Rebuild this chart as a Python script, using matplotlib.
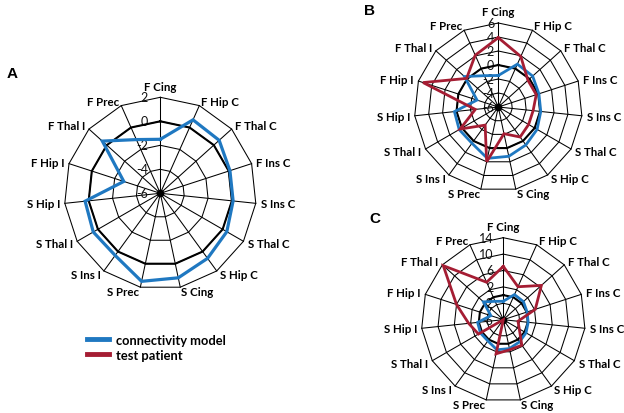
import numpy as np
import matplotlib
matplotlib.use("Agg")
import matplotlib.pyplot as plt
from matplotlib.lines import Line2D

plt.rcParams['font.family'] = ['Lato', 'DejaVu Sans']

# ---------------- data ----------------
categories = ["F Cing", "F Hip C", "F Thal C", "F Ins C", "S Ins C", "S Thal C",
              "S Hip C", "S Cing", "S Prec", "S Ins I", "S Thal I", "S Hip I",
              "F Hip I", "F Thal I", "F Prec"]
connectivity_model = [-1.5, 0.7, 0.6, 0.1, 0.1, 0.4, 0.7, 1.2, 1.5, 0.4, 0.45, 0.3, -2.8, 0.5, -1.1]
baseline = [0, 0, 0, 0, 0, 0, 0, 0, 0, 0, 0, 0, 0, 0, 0]
patient_b = [3.9, 1.9, -0.3, -0.3, -1.0, -1.0, -0.7, -2.1, 2.0, -2.8, 0.3, -2.7, 5.3, 0.1, 2.1]
patient_c = [7.0, 2.8, 6.5, 2.2, -2.4, -1.5, 1.7, 1.5, 2.5, -6.0, 1.0, 2.5, 6.0, 13.7, 4.0]
ticks_a = [-6, -4, -2, 0, 2]
ticks_b = [-6, -4, -2, 0, 2, 4, 6]
ticks_c = [-6, -2, 2, 6, 10, 14]

BLUE = '#1f78c1'
RED = '#a51d33'
BLACK = '#000000'

W, H = 624, 414
fig = plt.figure(figsize=(W / 100, H / 100), dpi=100)
fig.patch.set_facecolor('white')

n = len(categories)
theta = np.arange(n) * 2 * np.pi / n
theta_c = np.append(theta, theta[0])


def closed(vals):
    return np.append(np.asarray(vals, float), vals[0])


def radar(cx, cy, R, ticks, series, tick_dx):
    ax = fig.add_axes([(cx - R) / W, (H - cy - R) / H, 2 * R / W, 2 * R / H],
                      projection='polar')
    ax.set_theta_zero_location('N')
    ax.set_theta_direction(-1)
    rmin, rmax = ticks[0], ticks[-1]
    ax.set_ylim(rmin, rmax)
    ax.grid(False)
    ax.set_xticks([])
    ax.set_yticks([])
    ax.spines['polar'].set_visible(False)
    ax.patch.set_visible(False)
    # polygon grid rings
    for v in ticks[1:]:
        ax.plot(theta_c, [v] * (n + 1), color=BLACK, lw=0.75, clip_on=False, zorder=1)
    # spokes
    for t in theta:
        ax.plot([t, t], [rmin, rmax], color=BLACK, lw=0.75, clip_on=False, zorder=1)
    ax.plot([0], [rmin], marker='o', ms=4.5, color=BLACK, zorder=1, clip_on=False)
    # tick labels along the vertical axis
    for v in ticks:
        ax.annotate(str(v), xy=(0, v), xytext=(tick_dx, 0), textcoords='offset points',
                    ha='right', va='center', fontsize=9, color='#111111', zorder=2)
    # category labels
    for t, lab in zip(theta, categories):
        s, c = np.sin(t), np.cos(t)
        if abs(t) < 1e-6:
            ax.annotate(lab, xy=(t, rmax), xytext=(0, 4), textcoords='offset points',
                        ha='center', va='bottom', fontsize=8.3, fontweight='bold')
            continue
        ha = 'left' if s > 0.05 else ('right' if s < -0.05 else 'center')
        pad = 3.5
        ax.annotate(lab, xy=(t, rmax), xytext=(pad * s, pad * c),
                    textcoords='offset points', ha=ha, va='center',
                    fontsize=8.3, fontweight='bold')
    for vals, col, lw in series:
        ax.plot(theta_c, closed(vals), color=col, lw=lw, clip_on=False,
                solid_joinstyle='miter', zorder=3)
    return ax


radar(160.3, 194.3, 96, ticks_a,
      [(baseline, BLACK, 1.5), (connectivity_model, BLUE, 2.3)], -9)
radar(498.3, 108.0, 84, ticks_b,
      [(baseline, BLACK, 1.5), (connectivity_model, BLUE, 2.0), (patient_b, RED, 2.0)], -3)
radar(503.3, 320.7, 82, ticks_c,
      [(baseline, BLACK, 1.5), (connectivity_model, BLUE, 2.0), (patient_c, RED, 2.0)], -7)

# panel letters
for x, y, s in [(7, 67, 'A'), (364, 4, 'B'), (369, 212, 'C')]:
    fig.text(x / W, 1 - y / H, s, ha='left', va='top', fontsize=11,
             fontweight='bold', family=['Liberation Sans', 'DejaVu Sans'])

# legend
fig.legend(handles=[Line2D([], [], color=BLUE, lw=3.5),
                    Line2D([], [], color=RED, lw=3.5)],
           labels=['connectivity model', 'test patient'],
           loc='upper left', bbox_to_anchor=(87 / W, 1 - 335 / H),
           frameon=False, borderpad=0, borderaxespad=0,
           handlelength=1.7, handletextpad=0.55, labelspacing=0.2,
           prop={'size': 9.3, 'weight': 'bold', 'family': ['Lato', 'DejaVu Sans']})

fig.savefig('out.png', dpi=100, facecolor='white')
